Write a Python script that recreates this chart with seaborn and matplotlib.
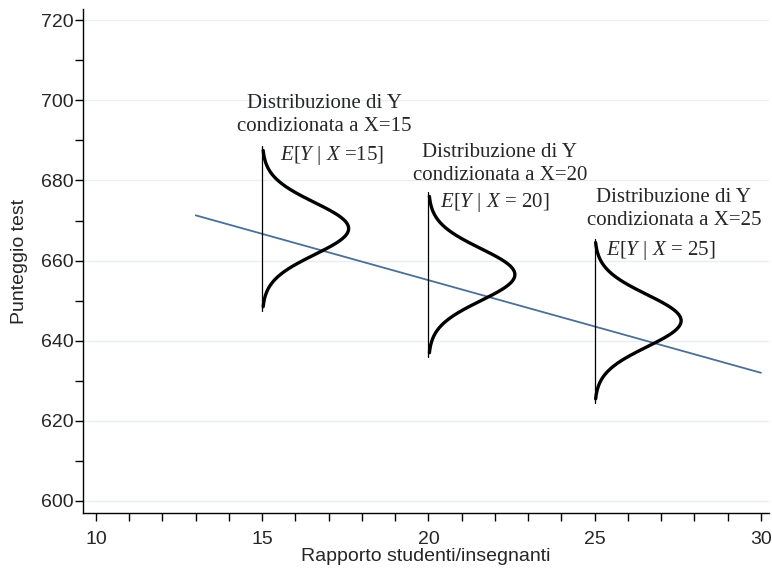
import numpy as np
import pandas as pd
import matplotlib
matplotlib.use('Agg')
import matplotlib.pyplot as plt
import seaborn as sns

# Regression line (endpoints)
line_x = [13, 30]
line_y = [671.3, 632.0]

# Conditional distributions of Y given X
cond_x = [15, 20, 25]
cond_mean = [668.0, 656.5, 645.0]
cond_sd = 6.5
cond_halfspan = 19.5       # curve drawn over mean +/- this
vline_halfspan = 20.5      # thin vertical base line
peak_width = 2.6           # horizontal size of the density peak (x units)

# Annotation texts
title_lines = ['Distribuzione di Y\ncondizionata a X=15',
               'Distribuzione di Y\ncondizionata a X=20',
               'Distribuzione di Y\ncondizionata a X=25']
title_pos = [(16.86, 696.3), (22.15, 684.1), (27.38, 672.9)]
exp_labels = [r'$E$[$Y$ | $X$ =15]', r'$E$[$Y$ | $X$ = 20]', r'$E$[$Y$ | $X$ = 25]']
exp_pos = [(17.1, 686.3), (22.0, 674.5), (27.0, 662.5)]

sns.set_style('ticks')
plt.rcParams['font.family'] = ['Liberation Sans', 'DejaVu Sans']
plt.rcParams['mathtext.fontset'] = 'custom'
plt.rcParams['mathtext.rm'] = 'Liberation Serif'
plt.rcParams['mathtext.it'] = 'Liberation Serif:italic'

fig = plt.figure(figsize=(7.72, 5.68), dpi=100)
ax = fig.add_axes([0.1075, 0.0968, 0.8885, 0.887])

# Horizontal grid
for yv in range(600, 721, 20):
    ax.axhline(yv, color='#e8eef3', lw=1, zorder=0)

sns.lineplot(x=line_x, y=line_y, ax=ax, color='#4a6f98', lw=1.3)

for xc, mu in zip(cond_x, cond_mean):
    yy = np.linspace(mu - cond_halfspan, mu + cond_halfspan, 300)
    dens = np.exp(-0.5 * ((yy - mu) / cond_sd) ** 2)
    df = pd.DataFrame({'x': xc + peak_width * dens, 'y': yy})
    sns.lineplot(data=df, x='x', y='y', sort=False, estimator=None, ax=ax,
                 color='black', lw=2.4)
    ax.plot([xc, xc], [mu - vline_halfspan, mu + vline_halfspan],
            color='black', lw=0.9)

for txt, (tx, ty) in zip(title_lines, title_pos):
    ax.text(tx, ty, txt, ha='center', va='center', fontsize=15,
            family='Liberation Serif', linespacing=1.3)
for txt, (tx, ty) in zip(exp_labels, exp_pos):
    ax.text(tx, ty, txt, ha='center', va='center', fontsize=15,
            family='Liberation Serif')

ax.set_xlim(9.61, 30.24)
ax.set_ylim(597, 722.75)
ax.set_xticks([10, 15, 20, 25, 30])
ax.set_xticks(np.arange(10, 31, 1), minor=True)
ax.set_yticks(np.arange(600, 721, 20))
ax.set_yticks(np.arange(600, 721, 10), minor=True)
ax.tick_params(which='both', direction='out', length=6, width=1, color='black',
               labelsize=14)
ax.tick_params(axis='x', pad=7)
ax.tick_params(axis='y', pad=1)
ax.set_xlabel('Rapporto studenti/insegnanti', fontsize=14, labelpad=0)
ax.set_ylabel('Punteggio test', fontsize=14, labelpad=9)
sns.despine(ax=ax)
for s in ['left', 'bottom']:
    ax.spines[s].set_linewidth(1)
    ax.spines[s].set_color('black')

fig.savefig('out.png', dpi=100)
